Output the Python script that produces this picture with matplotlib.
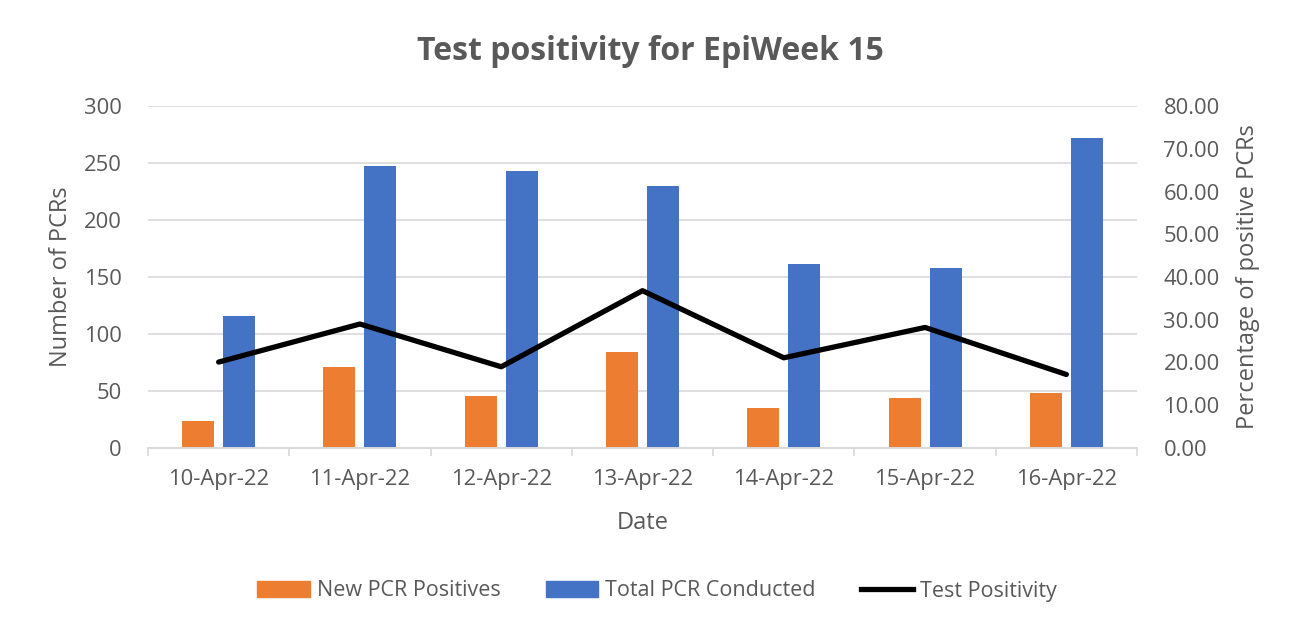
import matplotlib
matplotlib.use("Agg")
import matplotlib.pyplot as plt
import numpy as np
from matplotlib.ticker import FixedLocator, FormatStrFormatter
from matplotlib.lines import Line2D
from matplotlib.patches import Patch

dates = ["10-Apr-22", "11-Apr-22", "12-Apr-22", "13-Apr-22", "14-Apr-22", "15-Apr-22", "16-Apr-22"]
new_positives = [24, 71, 46, 84, 35, 44, 48]
total_conducted = [116, 247, 243, 230, 161, 158, 272]
test_positivity = [20.1, 29.0, 19.0, 36.8, 21.1, 28.2, 17.2]

left_ticks = [0, 50, 100, 150, 200, 250, 300]
right_ticks = [0, 10, 20, 30, 40, 50, 60, 70, 80]

ORANGE = "#ED7D31"
BLUE = "#4472C4"
GREY = "#595959"
GRID = "#D9D9D9"
FONT = "Open Sans"

plt.rcParams["font.family"] = [FONT, "DejaVu Sans"]

fig = plt.figure(figsize=(12.91, 6.28), dpi=100)
ax = fig.add_axes([148/1291, 1-448/628, (1137-148)/1291, (448-106)/628])
ax2 = ax.twinx()

x = np.arange(len(dates))
w = 0.226
off = 0.145
ax.bar(x - off, new_positives, width=w, color=ORANGE, zorder=2)
ax.bar(x + off, total_conducted, width=w, color=BLUE, zorder=2)
ax2.plot(x, test_positivity, color="black", lw=3.8, solid_capstyle="round", zorder=3)

ax.set_xlim(-0.5, len(dates) - 0.5)
ax.set_ylim(0, 300)
ax2.set_ylim(0, 80)

ax.set_yticks(left_ticks)
ax2.set_yticks(right_ticks)
ax2.yaxis.set_major_formatter(FormatStrFormatter("%.2f"))
ax.set_xticks(x)
ax.set_xticklabels(dates)
ax.xaxis.set_minor_locator(FixedLocator(np.arange(-0.5, len(dates), 1.0)))

ax.grid(axis="y", color=GRID, lw=1.2, zorder=0)
ax.set_axisbelow(True)
for a in (ax, ax2):
    for s in ("top", "left", "right"):
        a.spines[s].set_visible(False)
    a.spines["bottom"].set_color(GRID)
    a.spines["bottom"].set_linewidth(1.2)

TS = 15.8
LS = 17
ax.tick_params(axis="y", length=0, labelsize=TS, labelcolor=GREY, pad=19)
ax2.tick_params(axis="y", length=0, labelsize=TS, labelcolor=GREY, pad=19)
ax.tick_params(axis="x", which="major", length=0, labelsize=TS, labelcolor=GREY, pad=15)
ax.tick_params(axis="x", which="minor", length=6, color=GRID, width=1.2)

ax.set_ylabel("Number of PCRs", fontsize=LS, color=GREY, labelpad=8)
ax2.set_ylabel("Percentage of positive PCRs", fontsize=LS, color=GREY, labelpad=12)
ax.set_xlabel("Date", fontsize=LS, color=GREY, labelpad=15)

fig.suptitle("Test positivity for EpiWeek 15", x=650/1291, y=1-52/628,
             fontsize=23, fontweight="bold", color=GREY, va="center")

handles = [Patch(color=ORANGE), Patch(color=BLUE), Line2D([0], [0], color="black", lw=3.8)]
labels = ["New PCR Positives", "Total PCR Conducted", "Test Positivity"]
fig.legend(handles, labels, loc="center", bbox_to_anchor=(657/1291, 1-591/628), ncol=3,
           frameon=False, fontsize=15.5, labelcolor=GREY, handlelength=2.42, handleheight=0.75,
           handletextpad=0.33, columnspacing=2.1)

fig.savefig("out.png", dpi=100)
